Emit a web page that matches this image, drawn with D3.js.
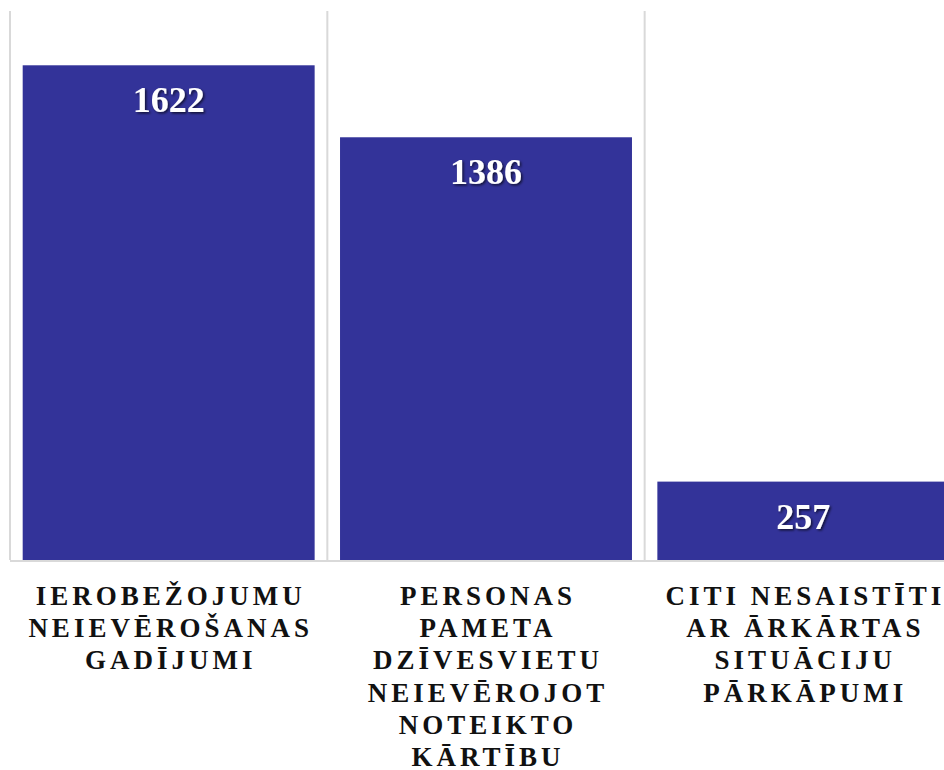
<!DOCTYPE html>
<html>
<head>
<meta charset="utf-8">
<script src="https://d3js.org/d3.v7.min.js"></script>
<style>
  body { margin: 0; background: #fff; }
  svg { display: block; }
</style>
</head>
<body>
<svg width="944" height="770"></svg>
<script>

var categories = ["c1", "c2", "c3"];
var values = [1622, 1386, 257];
var labels = [
    ["IEROBEŽOJUMU", "NEIEVĒROŠANAS", "GADĪJUMI"],
    ["PERSONAS", "PAMETA", "DZĪVESVIETU", "NEIEVĒROJOT", "NOTEIKTO", "KĀRTĪBU"],
    ["CITI NESAISTĪTI", "AR ĀRKĀRTAS", "SITUĀCIJU", "PĀRKĀPUMI"]
];
var yMax = 1800;

var svg = d3.select("svg"),
    width = +svg.attr("width"),
    height = +svg.attr("height");

var plotLeft = 10, plotRight = 962, plotBottom = 560, plotTop = 11;

var x = d3.scaleBand()
    .domain(categories)
    .range([plotLeft, plotRight])
    .paddingInner(0.08)
    .paddingOuter(0.04);

var y = d3.scaleLinear()
    .domain([0, yMax])
    .range([plotBottom, plotTop]);

var step = x.step();

// shadow for the value labels
var defs = svg.append("defs");
defs.append("filter")
    .attr("id", "shadow")
    .attr("x", "-20%").attr("y", "-20%")
    .attr("width", "140%").attr("height", "140%")
  .append("feDropShadow")
    .attr("dx", 1.5)
    .attr("dy", 1.5)
    .attr("stdDeviation", 1.3)
    .attr("flood-color", "#000")
    .attr("flood-opacity", 0.65);

// vertical grid lines between categories
var gridX = d3.range(categories.length + 1).map(function(i) { return plotLeft + i * step; });
svg.append("g")
  .selectAll("line")
  .data(gridX)
  .enter().append("line")
    .attr("x1", function(d) { return d; })
    .attr("x2", function(d) { return d; })
    .attr("y1", y(yMax))
    .attr("y2", plotBottom)
    .attr("stroke", "#d9d9d9")
    .attr("stroke-width", 2);

// bars
svg.append("g")
  .selectAll("rect")
  .data(values)
  .enter().append("rect")
    .attr("x", function(d, i) { return x(categories[i]); })
    .attr("y", function(d) { return y(d); })
    .attr("width", x.bandwidth())
    .attr("height", function(d) { return y(0) - y(d); })
    .attr("fill", "#333399");

// baseline
svg.append("line")
    .attr("x1", plotLeft)
    .attr("x2", plotRight)
    .attr("y1", plotBottom + 1)
    .attr("y2", plotBottom + 1)
    .attr("stroke", "#d9d9d9")
    .attr("stroke-width", 2);

// value labels
svg.append("g")
  .selectAll("text")
  .data(values)
  .enter().append("text")
    .attr("x", function(d, i) { return x(categories[i]) + x.bandwidth() / 2; })
    .attr("y", function(d) { return y(d) + 47; })
    .attr("text-anchor", "middle")
    .attr("font-family", "'Liberation Serif', 'Times New Roman', serif")
    .attr("font-weight", "bold")
    .attr("font-size", 36)
    .attr("fill", "#fff")
    .attr("filter", "url(#shadow)")
    .text(function(d) { return d; });

// category labels
var lab = svg.append("g")
  .selectAll("text")
  .data(labels)
  .enter().append("text")
    .attr("text-anchor", "middle")
    .attr("font-family", "'Liberation Serif', 'Times New Roman', serif")
    .attr("font-weight", "bold")
    .attr("font-size", 27)
    .attr("letter-spacing", 4)
    .attr("fill", "#111");

lab.selectAll("tspan")
  .data(function(d, i) { return d.map(function(t) { return {t: t, i: i}; }); })
  .enter().append("tspan")
    .attr("x", function(d) { return x(categories[d.i]) + x.bandwidth() / 2 + 2; })
    .attr("y", function(d, j) { return 605 + j * 32.2; })
    .text(function(d) { return d.t; });

</script>
</body>
</html>
